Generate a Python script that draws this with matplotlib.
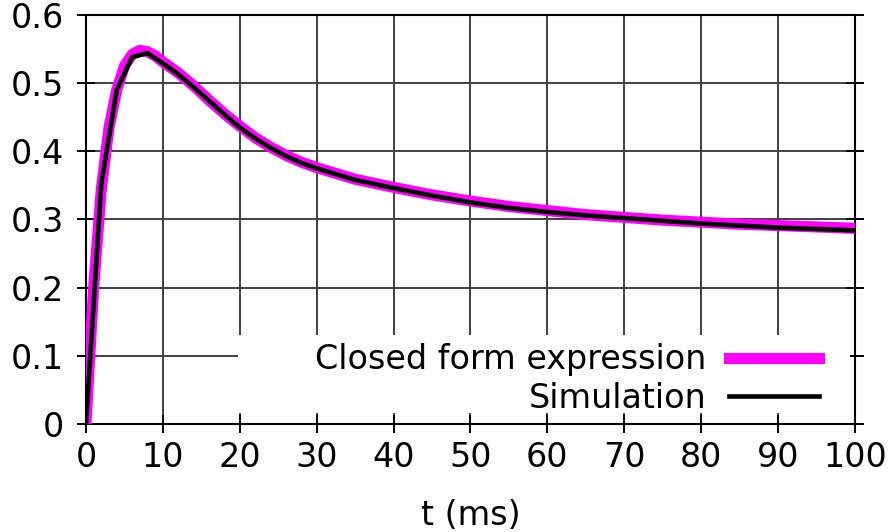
import numpy as np
import matplotlib
matplotlib.use("Agg")
import matplotlib.pyplot as plt
from matplotlib.patches import Rectangle

# closed form curve
t_cf = [0, 1, 2, 3, 4, 5, 6, 7, 8, 9, 10, 12, 14, 16, 18, 20, 22, 24, 26, 28, 30,
        35, 40, 45, 50, 55, 60, 65, 70, 75, 80, 85, 90, 95, 100]
v_cf = [0.0, 0.20, 0.345, 0.435, 0.490, 0.525, 0.542, 0.548, 0.546, 0.540, 0.531,
        0.515, 0.496, 0.475, 0.455, 0.437, 0.420, 0.406, 0.394, 0.384, 0.376,
        0.359, 0.347, 0.336, 0.327, 0.319, 0.313, 0.307, 0.303, 0.299, 0.296,
        0.293, 0.291, 0.289, 0.287]

# simulation
t_sim = [0, 2, 4, 6, 8, 10, 12, 14, 16, 18, 20, 22, 24, 26, 28, 30, 35, 40, 45,
         50, 55, 60, 65, 70, 75, 80, 85, 90, 95, 100]
v_sim = [0.0, 0.353, 0.490, 0.538, 0.544, 0.529, 0.513, 0.494, 0.474, 0.454,
         0.435, 0.419, 0.405, 0.393, 0.383, 0.375, 0.358, 0.346, 0.335, 0.325,
         0.317, 0.311, 0.306, 0.302, 0.298, 0.294, 0.291, 0.288, 0.286, 0.284]

xticks = np.arange(0, 101, 10)
yticks = [0, 0.1, 0.2, 0.3, 0.4, 0.5, 0.6]
ylabels = ["0", "0.1", "0.2", "0.3", "0.4", "0.5", "0.6"]

plt.rcParams['font.family'] = 'DejaVu Sans'
fig = plt.figure(figsize=(8.88, 5.32), dpi=100)
ax = fig.add_axes([0.0968, 0.203, 0.866, 0.769])

ax.plot(t_cf, v_cf, color="#ff00ff", lw=8, label="Closed form expression",
        zorder=3, solid_joinstyle="round")
ax.plot(t_sim, v_sim, color="black", lw=3.3, label="Simulation", zorder=4)

ax.set_xlim(0, 100)
ax.set_ylim(0, 0.6)
ax.set_xticks(xticks)
ax.set_yticks(yticks)
ax.set_yticklabels(ylabels)
ax.grid(True, color="#404040", lw=1.4)
ax.tick_params(axis="both", direction="inout", length=13, width=1.4,
               labelsize=24, right=True, top=False)
ax.tick_params(axis="x", pad=6)
ax.tick_params(axis="y", pad=9)
for s in ax.spines.values():
    s.set_linewidth(1.5)
ax.set_xlabel("t (ms)", fontsize=24, labelpad=18)

# white key box like gnuplot
ax.add_patch(Rectangle((0.198, 0.027), 0.795, 0.19, transform=ax.transAxes,
                       facecolor="white", edgecolor="none", zorder=2))
ax.legend(loc="lower right", bbox_to_anchor=(0.953, 0.022), frameon=False,
          markerfirst=False, fontsize=24, handlelength=2.7, handletextpad=0.66,
          labelspacing=0.17, borderpad=0, borderaxespad=0)

fig.savefig("out.png", dpi=100)
